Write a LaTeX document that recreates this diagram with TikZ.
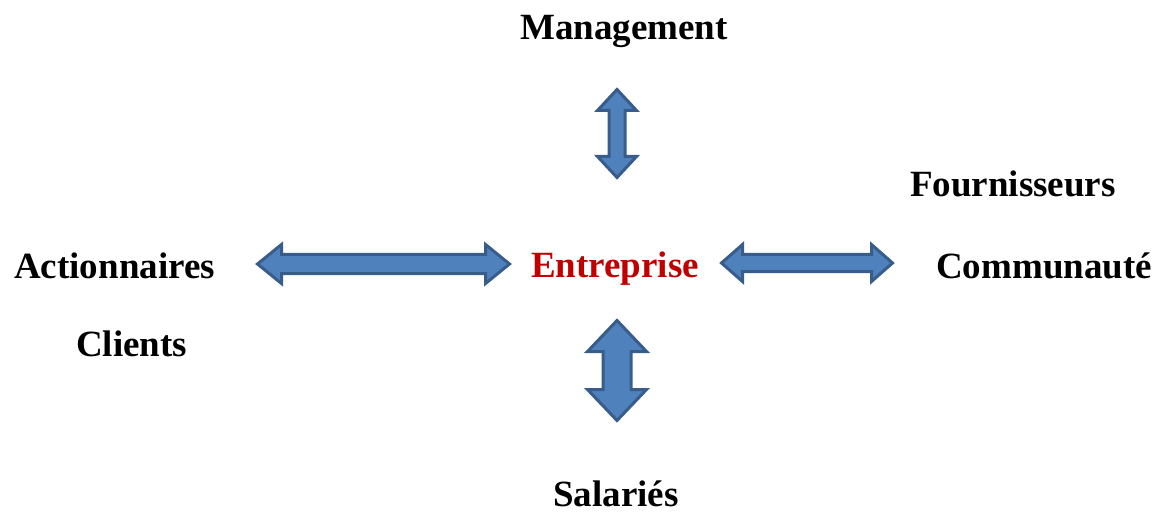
\documentclass[tikz,border=0pt]{standalone}
\usepackage{fontspec}
\setmainfont{Liberation Serif}
\definecolor{arrowfill}{HTML}{4F81BD}
\definecolor{arrowline}{HTML}{385D8A}
\definecolor{centrered}{HTML}{C00000}
% block double arrow: centre x, centre y, rotation, half length, head half width, shaft half width, head length
\newcommand\blockarrow[7]{%
  \begin{scope}[shift={(#1,#2)},rotate=#3]
    \draw[blockarrowstyle]
      (-#4,0) -- (-#4+#7,#5) -- (-#4+#7,#6) -- (#4-#7,#6) -- (#4-#7,#5) -- (#4,0)
      -- (#4-#7,-#5) -- (#4-#7,-#6) -- (-#4+#7,-#6) -- (-#4+#7,-#5) -- cycle;
  \end{scope}}
\begin{document}
\begin{tikzpicture}[x=1pt,y=-1pt,
  label/.style={anchor=base west,inner sep=0pt,font=\fontsize{37}{44}\selectfont\bfseries},
  blockarrowstyle/.style={fill=arrowfill,draw=arrowline,line width=3pt,line join=miter}]
  \useasboundingbox (0,0) rectangle (1161,521);

  % stakeholders around the firm
  \node[label] (mgmt) at (520,40) {Management};
  \node[label] (act) at (14,278) {Actionnaires};
  \node[label] (cli) at (76,356) {Clients};
  \node[label,text=centrered] (ent) at (531,277) {Entreprise};
  \node[label] (four) at (910,197) {Fournisseurs};
  \node[label] (comm) at (936,278) {Communauté};
  \node[label] (sal) at (553,506) {Salariés};

  % exchange arrows
  \blockarrow{617}{133.5}{90}{44}{19.5}{8}{21}
  \blockarrow{383.5}{264}{0}{126}{19.5}{9.5}{24}
  \blockarrow{807}{263}{0}{85.5}{18.5}{8.5}{21}
  \blockarrow{617}{370.5}{90}{50}{29.5}{14}{31}
\end{tikzpicture}
\end{document}
